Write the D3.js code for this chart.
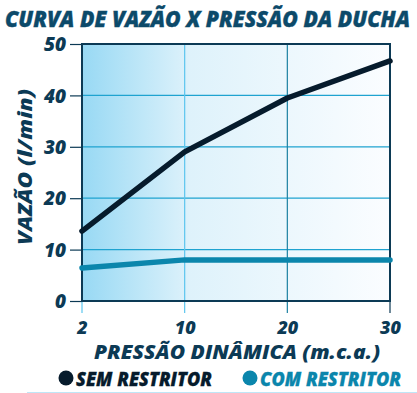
<!DOCTYPE html>
<html><head><meta charset="utf-8">
<script src="https://cdn.jsdelivr.net/npm/d3@7"></script>
<style>
html,body{margin:0;padding:0;background:#fff;}
text{font-family:"Open Sans",sans-serif;font-weight:800;font-style:italic;}
</style></head>
<body><svg id="c" width="417" height="393"></svg>
<script>
const categories = ["2","10","20","30"];
const semRestritor = [13.6, 29, 39.5, 46.7];
const comRestritor = [6.4, 8, 8, 8];
const yTicks = [0,10,20,30,40,50];
const seriesNames = ["SEM RESTRITOR","COM RESTRITOR"];
const seriesColors = ["#061b2c","#0b86ac"];

const svg = d3.select("#c");
const L=82,R=390,T=44,B=301;
const x = d3.scalePoint().domain(categories).range([L,R]);
const y = d3.scaleLinear().domain([0,50]).range([B,T]);

const defs = svg.append("defs");
const g = defs.append("linearGradient").attr("id","bg").attr("x1","0").attr("x2","1").attr("y1","0").attr("y2","0");
g.append("stop").attr("offset","0").attr("stop-color","#98d9f4");
g.append("stop").attr("offset","0.35").attr("stop-color","#def2fb");
g.append("stop").attr("offset","1").attr("stop-color","#fbfdff");
svg.append("rect").attr("x",L).attr("y",T).attr("width",R-L).attr("height",B-T).attr("fill","url(#bg)");

// title
svg.append("text").attr("x",5).attr("y",27).attr("font-size",23).attr("fill","#0c4a6a")
  .attr("stroke","#0c4a6a").attr("stroke-width",0.4)
  .attr("textLength",405).attr("lengthAdjust","spacingAndGlyphs")
  .text("CURVA DE VAZÃO X PRESSÃO DA DUCHA");

// horizontal grid
svg.append("g").selectAll("line").data(yTicks.filter(d=>d>0&&d<50)).join("line")
  .attr("x1",L).attr("x2",R).attr("y1",d=>y(d)).attr("y2",d=>y(d))
  .attr("stroke","#1fa3d0").attr("stroke-width",1.2);
// vertical grid
const vcol = {"2":"#5cc6ee","10":"#5cc6ee","20":"#1b80a2","30":"#0c3a55"};
svg.append("g").selectAll("line").data(categories).join("line")
  .attr("x1",d=>x(d)).attr("x2",d=>x(d)).attr("y1",T).attr("y2",B+12)
  .attr("stroke",d=>vcol[d]).attr("stroke-width",1.2);

// y axis ticks
const ya = d3.axisLeft(y).tickValues(yTicks).tickSize(12).tickPadding(4);
const yg = svg.append("g").attr("transform",`translate(${L},0)`).call(ya);
yg.select(".domain").remove();
yg.selectAll("line").attr("stroke","#0c3a55").attr("stroke-width",1.2);
yg.selectAll("text").attr("font-size",19).attr("fill","#0c3a55").attr("font-family","Open Sans").attr("dy","0.35em");

// x axis labels
const xa = d3.axisBottom(x).tickSize(0).tickPadding(0);
const xg = svg.append("g").attr("transform",`translate(0,${B})`).call(xa);
xg.select(".domain").remove();
xg.selectAll("text").attr("font-size",18).attr("fill","#0c3a55").attr("font-family","Open Sans")
  .attr("y",33).attr("dy",0);

// frame
svg.append("rect").attr("x",L).attr("y",T).attr("width",R-L).attr("height",B-T)
  .attr("fill","none").attr("stroke","#0c3a55").attr("stroke-width",2);

// lines
const line = d3.line().x((d,i)=>x(categories[i])).y(d=>y(d));
[semRestritor, comRestritor].forEach((s,i)=>{
  svg.append("path").datum(s).attr("d",line).attr("fill","none")
    .attr("stroke",seriesColors[i]).attr("stroke-width",5.5).attr("stroke-linecap","round").attr("stroke-linejoin","round");
});

// axis titles
svg.append("text").attr("x",237).attr("y",359).attr("text-anchor","middle").attr("font-size",19).attr("fill","#0c3a55")
  .attr("textLength",286).attr("lengthAdjust","spacingAndGlyphs").text("PRESSÃO DINÂMICA (m.c.a.)");
svg.append("text").attr("transform","translate(32,167) rotate(-90)").attr("text-anchor","middle").attr("font-size",19).attr("fill","#0c3a55")
  .attr("textLength",156).attr("lengthAdjust","spacingAndGlyphs").text("VAZÃO (l/min)");

// legend
const lx=[66,250], lw=[136,141];
seriesNames.forEach((n,i)=>{
  svg.append("circle").attr("cx",lx[i]).attr("cy",378).attr("r",7.5).attr("fill",seriesColors[i]);
  svg.append("text").attr("x",lx[i]+10).attr("y",386).attr("font-size",20).attr("fill",seriesColors[i])
    .attr("stroke",seriesColors[i]).attr("stroke-width",0.3)
    .attr("textLength",lw[i]).attr("lengthAdjust","spacingAndGlyphs").text(n);
});
svg.append("line").attr("x1",27).attr("x2",417).attr("y1",392.5).attr("y2",392.5).attr("stroke","#bfe6f7").attr("stroke-width",1);
</script></body></html>
